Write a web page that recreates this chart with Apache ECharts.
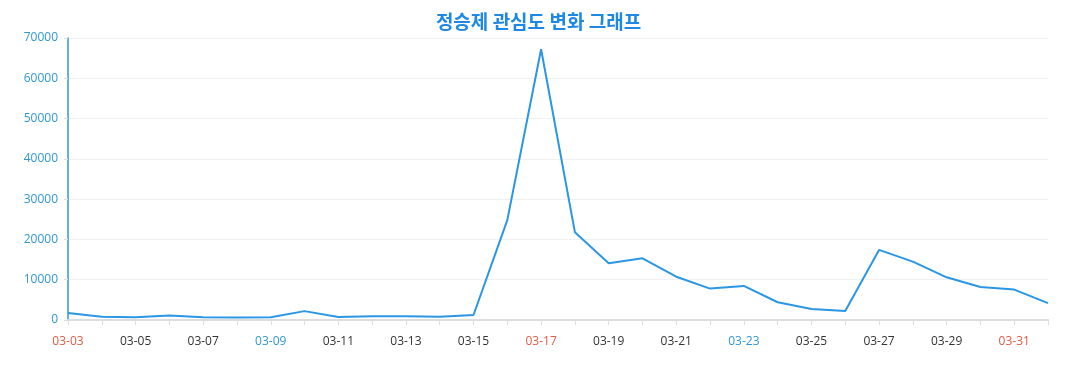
<!DOCTYPE html>
<html>
<head>
<meta charset="utf-8">
<script src="https://cdn.jsdelivr.net/npm/echarts@6/dist/echarts.min.js"></script>
<style>
html,body{margin:0;padding:0;background:#fff;}
#chart{width:1077px;height:390px;}
</style>
</head>
<body>
<div id="chart"></div>
<script>
const titleText = '정승제 관심도 변화 그래프';
const categories = ['03-03','03-04','03-05','03-06','03-07','03-08','03-09','03-10','03-11','03-12',
  '03-13','03-14','03-15','03-16','03-17','03-18','03-19','03-20','03-21','03-22',
  '03-23','03-24','03-25','03-26','03-27','03-28','03-29','03-30','03-31','04-01'];
const values = [1750, 800, 700, 1100, 700, 600, 700, 2200, 750, 900,
  900, 800, 1250, 24800, 67200, 21800, 14100, 15300, 10750, 7800,
  8450, 4400, 2750, 2250, 17400, 14500, 10600, 8200, 7550, 4200];
const redDates = ['03-03','03-17','03-31'];
const blueDates = ['03-09','03-23'];

const chart = echarts.init(document.getElementById('chart'));
chart.setOption({
  animation: false,
  title: {
    text: titleText,
    left: 'center',
    top: 7,
    textStyle: {color: '#1e88e5', fontSize: 19, fontWeight: 'bold', fontFamily: 'Noto Sans CJK KR'}
  },
  grid: {left: 68, right: 29, top: 38, bottom: 70},
  xAxis: {
    type: 'category',
    data: categories,
    boundaryGap: false,
    axisLine: {lineStyle: {color: '#dddddd', width: 2}},
    axisTick: {show: true, interval: 0, lineStyle: {color: '#dddddd'}, length: 5},
    axisLabel: {
      interval: 1,
      margin: 16,
      fontSize: 12,
      fontFamily: 'Open Sans',
      color: function (v) {
        if (redDates.indexOf(v) >= 0) return '#e05a45';
        if (blueDates.indexOf(v) >= 0) return '#2f97d6';
        return '#333333';
      }
    }
  },
  yAxis: {
    type: 'value',
    min: 0,
    max: 70000,
    interval: 10000,
    axisLine: {show: true, lineStyle: {color: '#2f97d6', width: 1.5}},
    axisTick: {show: true, lineStyle: {color: '#dddddd'}, length: 4},
    axisLabel: {color: '#2f97d6', fontSize: 12, fontFamily: 'Open Sans', margin: 10,
      formatter: function (v) { return String(v); }},
    splitLine: {lineStyle: {color: '#f0f0f0'}}
  },
  series: [{
    type: 'line',
    data: values,
    showSymbol: false,
    symbol: 'none',
    lineStyle: {color: '#2a96e4', width: 2},
    itemStyle: {color: '#2a96e4'}
  }]
});
</script>
</body>
</html>
